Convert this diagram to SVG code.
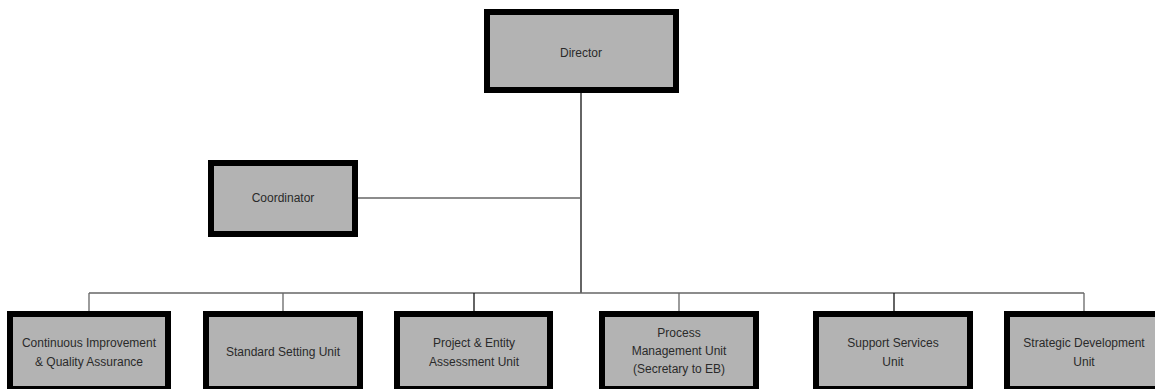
<svg xmlns="http://www.w3.org/2000/svg" width="1155" height="389" viewBox="0 0 1155 389">
<style>
.box{fill:#b3b3b3;stroke:#000;stroke-width:6}
.t{font-family:"Liberation Sans",Arial,sans-serif;font-size:12px;fill:#2a2a2a;text-anchor:middle}
.ln{stroke:#666;stroke-width:1.3;fill:none}
.dk{stroke:#111;stroke-width:1.3;fill:none}
</style>
<rect width="1155" height="389" fill="#fff"/>
<g id="connectors">
<line class="dk" x1="581" y1="93" x2="581" y2="293"/>
<line class="ln" x1="358" y1="198" x2="581" y2="198"/>
<line class="ln" x1="89" y1="293" x2="1084" y2="293"/>
<line class="ln" x1="89" y1="293" x2="89" y2="311"/>
<line class="ln" x1="283" y1="293" x2="283" y2="311"/>
<line class="dk" x1="474" y1="293" x2="474" y2="311"/>
<line class="ln" x1="679" y1="293" x2="679" y2="311"/>
<line class="dk" x1="894" y1="293" x2="894" y2="311"/>
<line class="ln" x1="1084" y1="293" x2="1084" y2="311"/>
</g>
<g id="director">
<rect class="box" x="487" y="12" width="189" height="78"/>
<text class="t" x="581" y="57">Director</text>
</g>
<g id="coordinator">
<rect class="box" x="211" y="163" width="144" height="71"/>
<text class="t" x="283" y="202">Coordinator</text>
</g>
<g id="ciqa">
<rect class="box" x="10" y="314" width="158" height="75"/>
<text class="t" x="89" y="347">Continuous Improvement</text>
<text class="t" x="89" y="366">&amp; Quality Assurance</text>
</g>
<g id="ssu">
<rect class="box" x="206" y="314" width="154" height="75"/>
<text class="t" x="283" y="356">Standard Setting Unit</text>
</g>
<g id="peau">
<rect class="box" x="397" y="314" width="153" height="75"/>
<text class="t" x="474" y="347">Project &amp; Entity</text>
<text class="t" x="474" y="366">Assessment Unit</text>
</g>
<g id="pmu">
<rect class="box" x="602" y="314" width="154" height="75"/>
<text class="t" x="679" y="337">Process</text>
<text class="t" x="679" y="355">Management Unit</text>
<text class="t" x="679" y="373">(Secretary to EB)</text>
</g>
<g id="ssvu">
<rect class="box" x="816" y="314" width="154" height="75"/>
<text class="t" x="893" y="347">Support Services</text>
<text class="t" x="893" y="366">Unit</text>
</g>
<g id="sdu">
<rect class="box" x="1007" y="314" width="154" height="75"/>
<text class="t" x="1084" y="347">Strategic Development</text>
<text class="t" x="1084" y="366">Unit</text>
</g>
</svg>
